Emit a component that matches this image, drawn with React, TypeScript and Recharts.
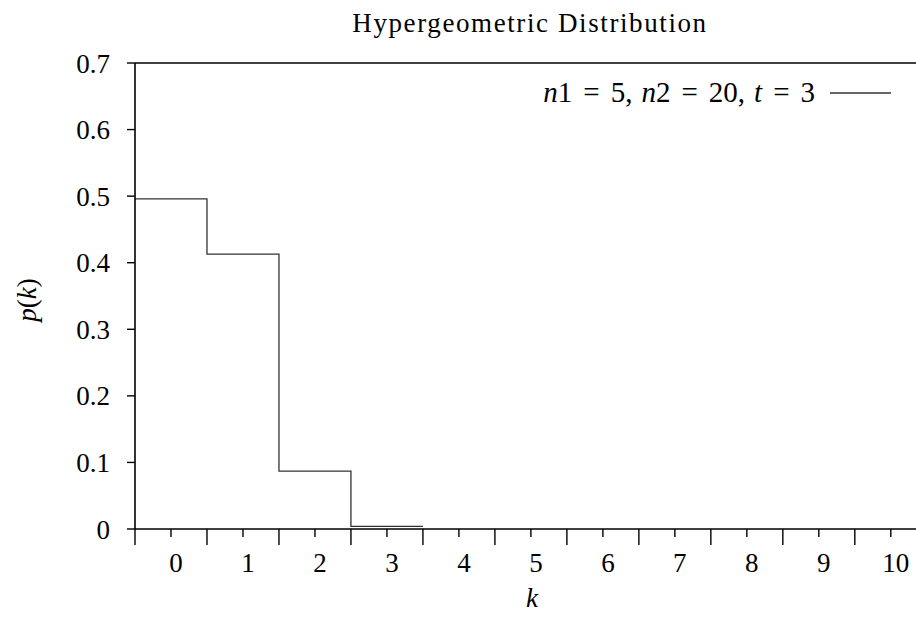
import { LineChart, Line, XAxis, YAxis, ReferenceLine } from 'recharts';

// hypergeometric pmf, n1=5, n2=20, t=3
const kValues = [0, 1, 2, 3];
const pValues = [0.496, 0.413, 0.087, 0.004];
const yTicks = [0, 0.1, 0.2, 0.3, 0.4, 0.5, 0.6, 0.7];
const xLabels = [0, 1, 2, 3, 4, 5, 6, 7, 8, 9, 10];

const FONT = 'Liberation Serif';
const FS = 27;

// bars are drawn as steps from k-0.5 to k+0.5
const stepData = [
  ...kValues.map((k, i) => ({ x: k - 0.5, p: pValues[i] })),
  { x: kValues[kValues.length - 1] + 0.5, p: pValues[pValues.length - 1] },
];

// long ticks between bins, short ticks under the labels
const xTicks = xLabels.flatMap((k) => [k - 0.5, k]);

function XTick(props: any) {
  const { x, y, payload } = props;
  const v = payload.value;
  const half = !Number.isInteger(v);
  return (
    <g>
      <line x1={x} x2={x} y1={y} y2={y + (half ? 16 : 8)} stroke="#000" strokeWidth={1.4} />
      {!half && (
        <text x={x + 5} y={y + 43} textAnchor="middle" style={{ fontFamily: FONT }} fontSize={FS} fill="#000">
          {v}
        </text>
      )}
    </g>
  );
}

// math-style spacing: wide around "=", thin after commas
const EQ = 11;
const COMMA = 9;

export default function App() {
  return (
    <div style={{ position: 'fixed', left: 0, top: 0, width: 916, height: 617, background: '#fff', fontFamily: FONT }}>
      <LineChart
        width={916}
        height={617}
        data={stepData}
        margin={{ top: 63, right: 0, bottom: 58, left: 75 }}
      >
        <XAxis
          dataKey="x"
          type="number"
          domain={[-0.5, 10.35]}
          allowDataOverflow
          ticks={xTicks}
          interval={0}
          tickLine={false}
          tickSize={0}
          tickMargin={0}
          height={30}
          tick={<XTick />}
          axisLine={{ stroke: '#000', strokeWidth: 1.6 }}
        />
        <YAxis
          type="number"
          domain={[0, 0.7]}
          ticks={yTicks}
          width={60}
          tickSize={8}
          tickMargin={17}
          tickFormatter={(v: number) => (v === 0 ? '0' : v.toFixed(1))}
          tick={{ fill: '#000', fontSize: FS, style: { fontFamily: FONT } }}
          tickLine={{ stroke: '#000', strokeWidth: 1.4 }}
          axisLine={{ stroke: '#000', strokeWidth: 1.6 }}
        />
        <ReferenceLine y={0.7} stroke="#000" strokeWidth={1.6} />
        <Line
          type="stepAfter"
          dataKey="p"
          stroke="#333"
          strokeWidth={1.3}
          dot={false}
          isAnimationActive={false}
        />
      </LineChart>
      <svg
        width={916}
        height={617}
        style={{ position: 'absolute', left: 0, top: 0, pointerEvents: 'none', fontFamily: FONT }}
        fontSize={FS}
      >
        <text x={530} y={32} textAnchor="middle" letterSpacing={1.6}>
          Hypergeometric Distribution
        </text>
        <text x={532} y={607} textAnchor="middle" fontStyle="italic">
          k
        </text>
        <text transform="translate(36,300) rotate(-90)" textAnchor="middle">
          <tspan fontStyle="italic">p</tspan>(<tspan fontStyle="italic">k</tspan>)
        </text>
        <text x={815} y={102} textAnchor="end" fontSize={29}>
          <tspan fontStyle="italic">n</tspan>
          <tspan>1</tspan>
          <tspan dx={EQ}>=</tspan>
          <tspan dx={EQ}>5,</tspan>
          <tspan dx={COMMA} fontStyle="italic">n</tspan>
          <tspan>2</tspan>
          <tspan dx={EQ}>=</tspan>
          <tspan dx={EQ}>20,</tspan>
          <tspan dx={COMMA} fontStyle="italic">t</tspan>
          <tspan dx={EQ}>=</tspan>
          <tspan dx={EQ}>3</tspan>
        </text>
        <line x1={830} x2={891} y1={93} y2={93} stroke="#333" strokeWidth={1.3} />
      </svg>
    </div>
  );
}
